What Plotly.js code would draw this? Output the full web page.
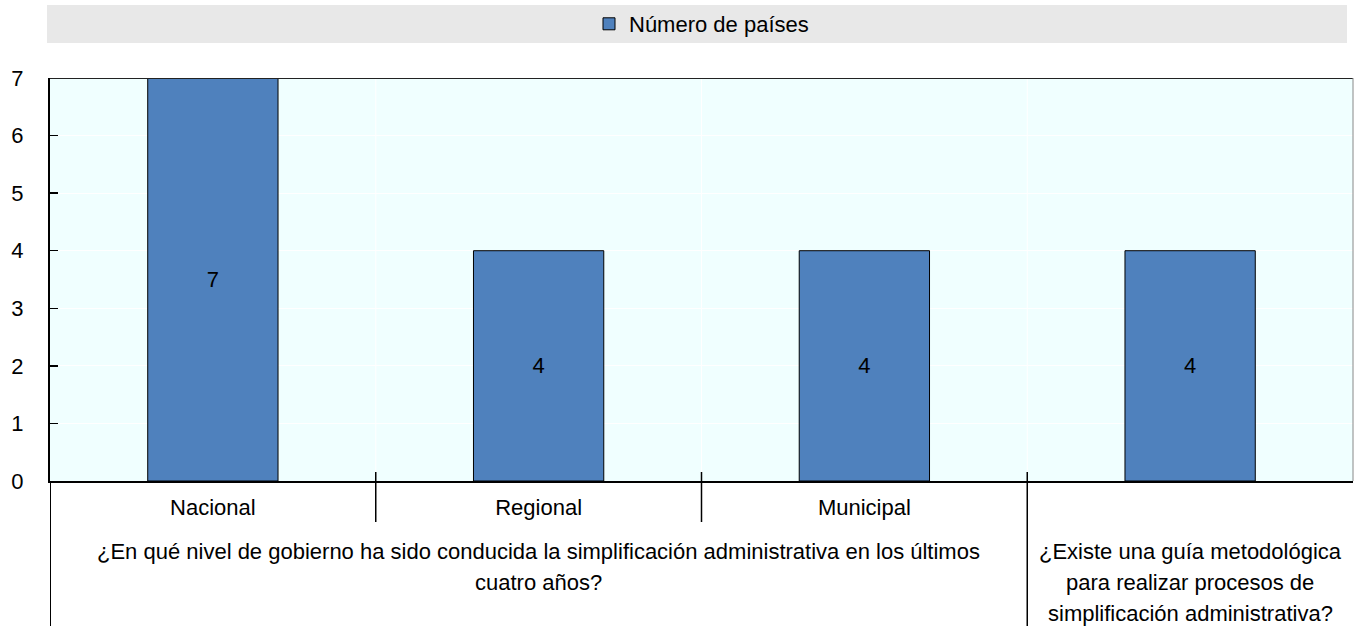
<!DOCTYPE html>
<html>
<head>
<meta charset="utf-8">
<script src="https://cdn.plot.ly/plotly-3.0.1.min.js"></script>
<style>html,body{margin:0;padding:0;background:#fff;}#chart{width:1354px;height:626px;}</style>
</head>
<body>
<div id="chart"></div>
<script>
const categories = ["Nacional", "Regional", "Municipal", ""];
const values = [7, 4, 4, 4];
const seriesName = "Número de países";
const groupLabels = [
  "¿En qué nivel de gobierno ha sido conducida la simplificación administrativa en los últimos<br>cuatro años?",
  "¿Existe una guía metodológica<br>para realizar procesos de<br>simplificación administrativa?"
];
const groupCenters = [1, 3];
const yTicks = [0, 1, 2, 3, 4, 5, 6, 7];

const FONT = "Liberation Sans, Arial, sans-serif";
const FS = 22;
const xIdx = categories.map((c, i) => i);

const trace = {
  type: "bar",
  x: xIdx,
  y: values,
  name: seriesName,
  width: 0.4,
  text: values.map(String),
  textposition: "inside",
  insidetextanchor: "middle",
  constraintext: "none",
  textfont: {family: FONT, size: FS, color: "#000"},
  marker: {color: "#4f81bd", line: {color: "#000", width: 1}},
  showlegend: true,
  hoverinfo: "skip"
};

const PH = 403; // plot height px
function py(px) { return (481 - px) / PH; }

const shapes = [
  {type: "rect", xref: "paper", yref: "paper", x0: -3/1303, x1: 1297/1303, y0: py(43), y1: py(5), fillcolor: "#e8e8e8", line: {width: 0}, layer: "below"},
  {type: "line", xref: "paper", yref: "y", x0: 0, x1: 1, y0: 7, y1: 7, line: {color: "#222", width: 2}},
  {type: "line", xref: "paper", yref: "paper", x0: 1, x1: 1, y0: 0, y1: 1, line: {color: "#888", width: 1}},
  {type: "line", xref: "x", yref: "paper", x0: -0.5, x1: -0.5, y0: 0, y1: py(626), line: {color: "#000", width: 2}},
  {type: "line", xref: "x", yref: "paper", x0: 0.5, x1: 0.5, y0: py(472), y1: py(522), line: {color: "#000", width: 1.5}},
  {type: "line", xref: "x", yref: "paper", x0: 1.5, x1: 1.5, y0: py(472), y1: py(522), line: {color: "#000", width: 1.5}},
  {type: "line", xref: "x", yref: "paper", x0: 2.5, x1: 2.5, y0: py(472), y1: py(626), line: {color: "#000", width: 1.5}}
];
[0.5, 1.5, 2.5].forEach(x => shapes.push({type: "line", xref: "x", yref: "y", x0: x, x1: x, y0: 0, y1: 7, line: {color: "#fff", width: 1}, layer: "below"}));

const annotations = [];
groupLabels.forEach((t, i) => {
  t.split("<br>").forEach((line, k) => {
    annotations.push({
      xref: "x", yref: "paper", x: groupCenters[i], y: py(551 + 31 * k), yanchor: "middle", xanchor: "center",
      text: line, showarrow: false, align: "center",
      font: {family: FONT, size: FS, color: "#000"}
    });
  });
});

const layout = {
  width: 1354, height: 626,
  margin: {l: 50, r: 1, t: 78, b: 145, pad: 0},
  paper_bgcolor: "#ffffff",
  plot_bgcolor: "#f0ffff",
  font: {family: FONT, size: FS, color: "#000"},
  showlegend: true,
  legend: {orientation: "h", x: 0.5, xanchor: "center", y: py(24), yanchor: "middle", bgcolor: "rgba(0,0,0,0)", font: {family: FONT, size: FS, color: "#000"}, itemwidth: 30},
  xaxis: {
    range: [-0.5, 3.5], tickvals: xIdx, ticktext: categories, ticks: "", showgrid: false,
    showline: true, linecolor: "#000", linewidth: 2, zeroline: false,
    tickfont: {family: FONT, size: FS, color: "#000"}, ticklabelstandoff: 6, fixedrange: true
  },
  yaxis: {
    range: [0, 7], tickvals: yTicks, ticks: "inside", ticklen: 8, tickcolor: "#000", tickwidth: 1.5,
    showline: true, linecolor: "#000", linewidth: 2, gridcolor: "#ffffff", gridwidth: 1, zeroline: false,
    tickfont: {family: FONT, size: FS, color: "#000"}, ticklabelstandoff: 20, fixedrange: true
  },
  bargap: 0.6,
  shapes: shapes,
  annotations: annotations
};

Plotly.newPlot("chart", [trace], layout, {displayModeBar: false, staticPlot: true});
</script>
</body>
</html>
